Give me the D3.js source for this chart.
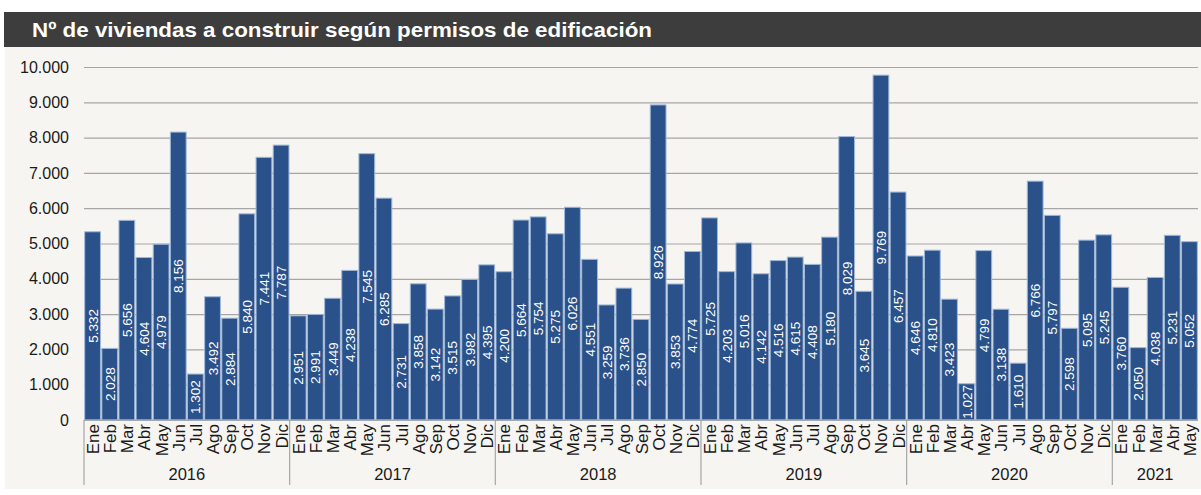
<!DOCTYPE html>
<html>
<head>
<meta charset="utf-8">
<script src="https://cdn.jsdelivr.net/npm/d3@7"></script>
<style>
  html, body { margin: 0; padding: 0; background: #ffffff; }
  svg { display: block; }
</style>
</head>
<body>
<svg id="chart" width="1201" height="495"></svg>
<script>
// Monthly number of dwellings to build according to building permits
const title = "Nº de viviendas a construir según permisos de edificación";
const monthNames = ["Ene","Feb","Mar","Abr","May","Jun","Jul","Ago","Sep","Oct","Nov","Dic"];
const years = ["2016","2017","2018","2019","2020","2021"];
const values2016 = [5332, 2028, 5656, 4604, 4979, 8156, 1302, 3492, 2884, 5840, 7441, 7787];
const values2017 = [2951, 2991, 3449, 4238, 7545, 6285, 2731, 3858, 3142, 3515, 3982, 4395];
const values2018 = [4200, 5664, 5754, 5275, 6026, 4551, 3259, 3736, 2850, 8926, 3853, 4774];
const values2019 = [5725, 4203, 5016, 4142, 4516, 4615, 4408, 5180, 8029, 3645, 9769, 6457];
const values2020 = [4646, 4810, 3423, 1027, 4799, 3138, 1610, 6766, 5797, 2598, 5095, 5245];
const values2021 = [3760, 2050, 4038, 5231, 5052];
const yTicks = [0, 1000, 2000, 3000, 4000, 5000, 6000, 7000, 8000, 9000, 10000];

const seriesByYear = [values2016, values2017, values2018, values2019, values2020, values2021];
const data = [];
seriesByYear.forEach((vals, yi) => {
  vals.forEach((v, mi) => {
    data.push({ key: years[yi] + "-" + mi, year: years[yi], month: monthNames[mi], value: v });
  });
});

const fmt = d3.formatLocale({ decimal: ",", thousands: ".", grouping: [3], currency: ["", "€"] }).format(",d");

const FONT = "'Liberation Sans', Arial, sans-serif";
const svg = d3.select("#chart");
const W = 1201, H = 495;
const margin = { left: 84, right: 3, top: 67 };
const plotBottom = 420;

// Background panel and title bar
svg.append("rect").attr("x", 5).attr("y", 46).attr("width", W - 5).attr("height", 443).attr("fill", "#f6f5f1");
svg.append("rect").attr("x", 4).attr("y", 12).attr("width", W - 4).attr("height", 35).attr("fill", "#3d3d3d");
svg.append("text")
  .attr("x", 32).attr("y", 37)
  .attr("fill", "#ffffff")
  .attr("font-family", FONT)
  .attr("font-weight", "bold")
  .attr("font-size", 21)
  .attr("textLength", 620)
  .attr("lengthAdjust", "spacingAndGlyphs")
  .text(title);

const x = d3.scaleBand()
  .domain(data.map(d => d.key))
  .range([margin.left, W - margin.right])
  .paddingInner(0.08)
  .paddingOuter(0.04);

const y = d3.scaleLinear().domain([0, 10000]).range([plotBottom, margin.top]);

// Gridlines and y labels
const yAxis = d3.axisLeft(y).tickValues(yTicks).tickFormat(fmt)
  .tickSize(-(W - margin.right - margin.left)).tickPadding(15);
const gy = svg.append("g").attr("transform", `translate(${margin.left},0)`).call(yAxis);
gy.select(".domain").remove();
gy.selectAll(".tick line").attr("stroke", "#a6a6a6").attr("stroke-width", 1.2);
gy.selectAll(".tick text")
  .attr("fill", "#1a1a1a")
  .attr("font-family", FONT)
  .attr("font-size", 16);

// Bars
svg.append("g").selectAll("rect").data(data).join("rect")
  .attr("x", d => x(d.key))
  .attr("y", d => y(d.value))
  .attr("width", x.bandwidth())
  .attr("height", d => y(0) - y(d.value))
  .attr("fill", "#2a5189")
  .attr("stroke", "#9fb8d8")
  .attr("stroke-width", 1);

// Value labels inside bars, rotated
svg.append("g").selectAll("text").data(data).join("text")
  .attr("transform", d => `translate(${x(d.key) + x.bandwidth() / 2 + 0.5},${(y(d.value) + y(0)) / 2}) rotate(-90)`)
  .attr("text-anchor", "middle")
  .attr("dominant-baseline", "central")
  .attr("fill", "#ffffff")
  .attr("font-family", FONT)
  .attr("font-size", 13.5)
  .text(d => fmt(d.value));

// Month labels below the axis
svg.append("g").selectAll("text").data(data).join("text")
  .attr("transform", d => `translate(${x(d.key) + x.bandwidth() / 2 + 1},${plotBottom + 4}) rotate(-90)`)
  .attr("text-anchor", "end")
  .attr("dominant-baseline", "central")
  .attr("fill", "#1a1a1a")
  .attr("font-family", FONT)
  .attr("font-size", 17)
  .text(d => d.month);

// Year groups: separators and centered labels
const yearGroups = d3.groups(data, d => d.year);
const half = x.step() * x.paddingInner() / 2;
const sepG = svg.append("g");
yearGroups.forEach(([yr, items]) => {
  const x0 = x(items[0].key) - half;
  const x1 = x(items[items.length - 1].key) + x.bandwidth() + half;
  sepG.append("line")
    .attr("x1", x0).attr("x2", x0)
    .attr("y1", plotBottom).attr("y2", 485)
    .attr("stroke", "#a6a6a6").attr("stroke-width", 1.2);
  sepG.append("text")
    .attr("x", (x0 + x1) / 2).attr("y", 480)
    .attr("text-anchor", "middle")
    .attr("fill", "#1a1a1a")
    .attr("font-family", FONT)
    .attr("font-size", 16.5)
    .text(yr);
});

// Baseline
svg.append("line")
  .attr("x1", margin.left).attr("x2", W - margin.right)
  .attr("y1", plotBottom).attr("y2", plotBottom)
  .attr("stroke", "#a6a6a6").attr("stroke-width", 1.2);
</script>
</body>
</html>
